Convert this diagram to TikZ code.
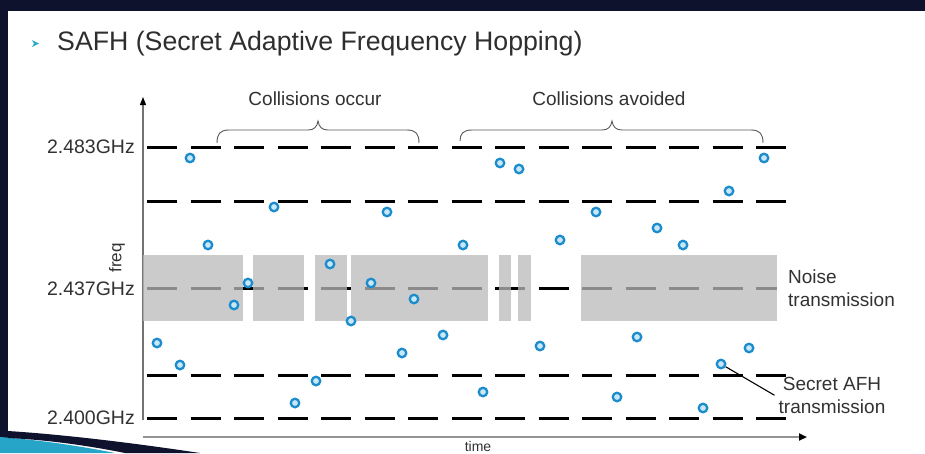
\documentclass[tikz,border=0pt]{standalone}
\usepackage{fontspec}
\setmainfont{Liberation Sans}
\usetikzlibrary{arrows.meta}
\definecolor{navy}{RGB}{14,18,45}
\definecolor{swoosh}{RGB}{38,165,200}
\definecolor{ringblue}{RGB}{28,140,204}
\definecolor{ringfill}{RGB}{200,232,248}
\definecolor{txt}{RGB}{50,50,50}
\definecolor{bulletc}{RGB}{40,170,200}
\begin{document}
\begin{tikzpicture}[x=1pt,y=-1pt,
  chan/.style={line width=3pt, dash pattern=on 30pt off 13.5pt},
  dot/.style={circle, draw=ringblue, fill=ringfill, line width=2.3pt, minimum size=8.5pt, inner sep=0pt},
  lab/.style={font=\fontsize{19}{23}\selectfont, text=txt, inner sep=0pt},
  freqlab/.style={font=\fontsize{19.5}{23}\selectfont, text=txt, inner sep=0pt, anchor=base east},
  noisebox/.style={fill=black!27, fill opacity=0.75},
  bracepath/.style={draw=black!65, line width=0.9pt},
  axis/.style={line width=1.3pt, draw=black!55},
  leader/.style={draw=black, line width=1.1pt}
]
\useasboundingbox (0,0) rectangle (925,453);
% frame
\fill[navy] (0,0) rectangle (925,453);
\fill[white] (8,11) rectangle (925,453);
% swoosh bottom-left
\fill[swoosh] (0,437) .. controls (40,440) and (80,446) .. (115,453) -- (0,453) -- cycle;
\fill[navy] (8,431) .. controls (70,435) and (140,444) .. (200,453) -- (125,453) .. controls (90,446) and (50,440) .. (8,438) -- cycle;

% title
\fill[bulletc] (32,40) -- (39,43.5) -- (32,47) -- (34,43.5) -- cycle;
\node[anchor=base west, font=\fontsize{26.7}{30}\selectfont, text=black!82, inner sep=0pt] (title) at (57,50) {SAFH (Secret Adaptive Frequency Hopping)};

% axes
\coordinate (ybot) at (143,420);
\coordinate (ytop) at (143,97);
\coordinate (xl) at (143,437);
\coordinate (xr) at (807,437);
\draw[axis, -{Triangle[length=8pt,width=6pt,color=black]}] (ybot) -- (ytop);
\draw[line width=2pt, draw=black!42, -{Triangle[length=8pt,width=7pt,color=black]}] (xl) -- (xr);

% channel lines
\foreach \yy in {147,201,375,418}
  \draw[chan] (147,\yy) -- (786,\yy);
\draw[chan] (147,288) -- (777,288);

% noise boxes
\fill[noisebox] (143,255) rectangle (243,321);
\fill[noisebox] (253,255) rectangle (304,321);
\fill[noisebox] (315,255) rectangle (347,321);
\fill[noisebox] (351,255) rectangle (488,321);
\fill[noisebox] (499,255) rectangle (511,321);
\fill[noisebox] (518,255) rectangle (531,321);
\fill[noisebox] (581,255) rectangle (777,321);

% braces
\draw[bracepath] (217,143) .. controls (217,134) and (220,130) .. (229,130) -- (308,130)
  .. controls (314,130) and (317,127) .. (318,121) .. controls (319,127) and (322,130) .. (328,130)
  -- (407,130) .. controls (416,130) and (419,134) .. (419,143);
\draw[bracepath] (460,141) .. controls (460,134) and (463,130) .. (472,130) -- (602,130)
  .. controls (608,130) and (611,127) .. (612,121) .. controls (613,127) and (616,130) .. (622,130)
  -- (751,130) .. controls (760,130) and (763,134) .. (763,143);

% labels
\node[lab, anchor=base] (occur) at (315,105) {Collisions occur};
\node[lab, anchor=base] (avoid) at (609,105) {Collisions avoided};
\node[freqlab] (f483) at (135,153) {2.483GHz};
\node[freqlab] (f437) at (135,295) {2.437GHz};
\node[freqlab] (f400) at (135,424) {2.400GHz};
\node[font=\fontsize{17}{20}\selectfont, text=txt, inner sep=0pt, rotate=90] (freq) at (117,258) {freq};
\node[font=\fontsize{14}{16}\selectfont, text=txt, inner sep=0pt, anchor=north] (time) at (478,441) {time};
\node[lab, anchor=base west, align=left] (noise) at (788,306.7) {Noise\\transmission};
\node[lab, anchor=base, align=center] (secret) at (832,413.3) {Secret AFH\\transmission};

% hop dots
\foreach \px/\py [count=\i] in {157/343,180/365,190/158,208/245,234/305,248/283,274/207,295/403,
  316/381,330/264,351/321,371/283,387/212,402/353,414/299,443/335,463/245,483/392,500/163,519/169,
  540/346,560/240,596/212,617/397,637/337,657/228,683/245,703/408,721/364,729/191,749/348,764/158}
  \node[dot] (c\i) at (\px,\py) {};

% leader from a hop to its label
\draw[leader] (c29) -- ([xshift=-4pt]secret.west);
\end{tikzpicture}
\end{document}
